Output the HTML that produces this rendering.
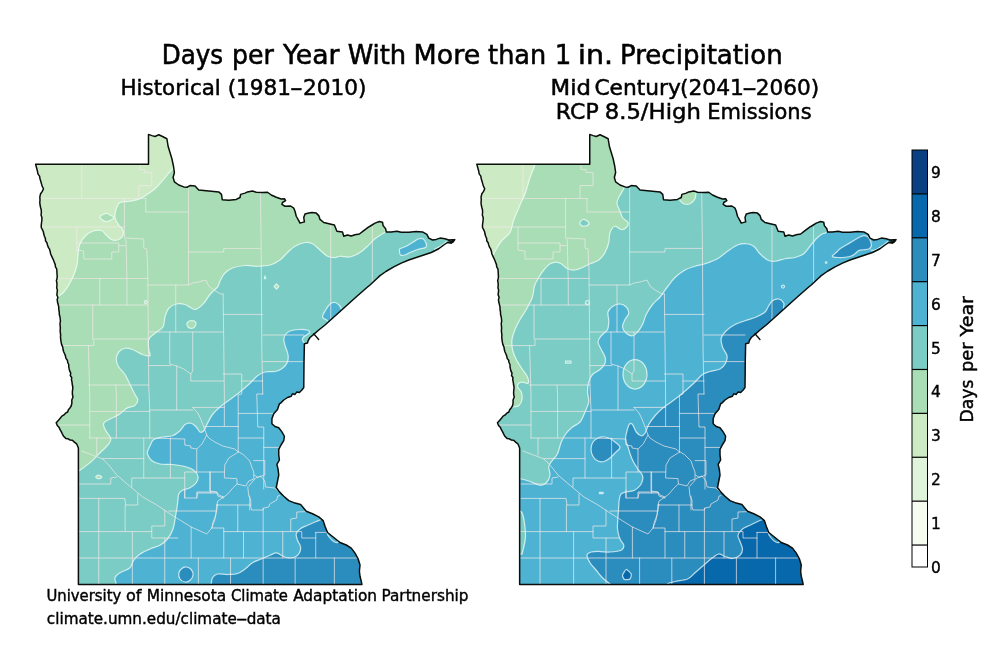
<!DOCTYPE html>
<html lang="en">
<head>
<meta charset="utf-8">
<title>Days per Year With More than 1 in. Precipitation</title>
<style>
html,body{margin:0;padding:0;background:#fff;}
body{width:1000px;height:667px;overflow:hidden;}
svg{display:block;}
text{font-family:"DejaVu Sans","Liberation Sans",sans-serif;fill:#000;}
.cn{stroke:#f4fffc;stroke-opacity:.72;stroke-width:1.25;stroke-linejoin:round;}
.co{fill:none;stroke:#f3eaea;stroke-opacity:.7;stroke-width:1;stroke-linejoin:round;stroke-linecap:round;}
.st{fill:none;stroke:#0a0f0a;stroke-width:1.5;stroke-linejoin:round;stroke-linecap:round;}
</style>
</head>
<body>
<svg width="1000" height="667" viewBox="0 0 1000 667">
<rect width="1000" height="667" fill="#fff"/>
<defs>
<path id="mn" d="M35.6 164.2 L148.5 164.2 L148.5 134.4 L151.9 135.6 L155 136.5 L158.75 134.75 L162.5 136.5 L166.9 138.75 L168.1 146.25 L170 152.5 L171.9 158.75 L173.5 166.25 L174.4 172.5 L173.1 177.5 L174.4 181.9 L178.75 185 L183.75 186.9 L186.9 187.25 L190 185.6 L195 186 L196.9 188.1 L198.75 190 L208.75 191 L218.75 191.9 L221.5 194.4 L222.25 199.75 L228.75 200.25 L236.25 199.4 L240 197.5 L240.6 194.4 L245 193.1 L247.5 191.9 L252.5 191 L256.25 192.25 L262.5 192.5 L267.5 192.25 L271.25 195 L276.25 197.25 L281.25 199 L284.4 198.75 L285.6 200.6 L282.5 202.5 L281.9 204.4 L285 206.25 L290.6 206 L293.75 208.1 L295 211.25 L296.25 216.25 L298.75 220.6 L300 223.1 L304.4 221.9 L303.75 217.5 L305 214 L308.75 213.1 L311.9 212.5 L316.25 213.1 L318.75 215.6 L320 219.4 L323.75 222.5 L330 224 L334.4 225 L335.6 228.1 L336.9 231.25 L342.5 231.9 L343.75 236.25 L347.5 235 L351.25 236 L355 234.75 L359.4 234 L363.75 230.6 L368.75 226.9 L370 226.25 L375 223.1 L379.4 221.5 L382.5 222.25 L383.1 225.6 L385.6 228.75 L386.25 231.9 L391.25 231.9 L396.9 231.25 L401.25 232.25 L408.75 232.25 L416.25 231.5 L422.5 231.9 L426.9 234.4 L428.75 238.1 L432.5 240 L436.25 239.4 L440 238.1 L445 238.75 L448.75 240 L452.5 239.75 L454.6 239.7 L451.25 243.1 L447.5 242.5 L443.75 245 L438.75 248.75 L431.25 252.5 L423.75 255 L416.25 257.5 L408.75 260 L401.25 263.1 L393.75 266.9 L386.25 271.25 L380 275.6 L377.5 278 L370 285 L367.5 287 L357.5 295.75 L345 307 L332.5 318.25 L325 325 L318.75 330 L313.75 334.4 L310 337.5 L308.1 340.6 L307.5 343.1 L304.4 343.75 L304 362.5 L303.75 387.5 L301.9 390 L299.4 392.5 L296.9 391.9 L295 394.4 L292.5 393.75 L291.25 396.25 L287.5 397.5 L283.75 400 L280.6 403.1 L279.4 403.75 L277.5 409.4 L273.75 413.75 L271.9 418.75 L271.9 423.75 L275 426.5 L278.75 427.75 L281.9 431.9 L284.4 436.25 L283.75 440.6 L281 445 L278.75 449.4 L278.75 455 L279.4 460 L276.9 464.4 L278.1 469.4 L278.75 475 L277.5 481.25 L276.25 487.5 L279.4 491.9 L283.75 496.25 L288.75 500.6 L295 503.1 L300.6 504.4 L303.1 507.5 L306.25 511.25 L312.5 513.75 L318.75 516.9 L323.1 520.6 L325 526.25 L327.5 532.5 L333.75 537.5 L340 542.5 L346.25 545 L351.25 548.1 L355 553.1 L358.1 558.75 L360 565 L359.4 571.25 L360 576.25 L361.25 581.25 L361.9 584.4 L78.4 584.4 L78.4 448 L76.6 443.8 L74.37 442.15 L72.4 440.2 L70.1 439.97 L68.04 438.84 L65.8 438.4 L63.62 436.28 L62.2 433.6 L61.24 431.58 L60.07 429.67 L59.2 427.6 L57.29 425.46 L56.2 422.8 L58.31 420.41 L60.4 418 L61.87 416.11 L63.95 414.94 L65.5 413.14 L67.6 412 L68.41 409.77 L69.93 407.96 L71.2 406 L71.86 403.04 L71.8 400 L73 397 L72.42 394.53 L72.36 392.02 L72.64 389.49 L72.82 386.97 L72.25 384.49 L72 382 L71.48 379.83 L71.7 377.53 L70.29 375.53 L70.76 373.18 L69.74 371.1 L69.18 368.95 L68.74 366.76 L68.75 364.5 L67.72 362.49 L67.41 360.2 L65.92 358.38 L65.5 356.13 L64.73 354.03 L63.75 352 L63.07 349.53 L62.72 346.99 L61.65 344.6 L61.11 342.1 L60.73 339.57 L60.5 337 L60.64 334.77 L60.31 332.56 L60.13 330.34 L60.37 328.11 L60.17 325.89 L59.95 323.67 L60.43 321.44 L60.27 319.22 L60 317 L59.31 314.55 L59.25 311.99 L58.78 309.5 L58.74 306.93 L58.17 304.46 L57.5 302 L57.19 299.63 L57.88 297.23 L56.86 294.89 L57.11 292.5 L57.41 290.12 L56.67 287.76 L56.96 285.38 L56.9 283 L56.39 280.65 L57.09 278.3 L57.19 275.95 L56.98 273.6 L56.9 271.25 L56.67 268.95 L55.45 266.93 L55.23 264.63 L54.4 262.5 L53.55 260.27 L52.58 258.09 L51.51 255.96 L50.6 253.75 L50.18 251.44 L49.51 249.21 L48.25 247.2 L47.5 245 L46.9 242.75 L45.49 240.79 L45.38 238.36 L44.4 236.25 L43.76 234.01 L43.34 231.69 L42.37 229.57 L41.25 227.5 L41.23 224.98 L41.56 222.49 L41.9 220 L41.92 217.49 L41.05 215.03 L41.37 212.5 L41.25 210 L40.6 207.5 L40.04 205.03 L39.78 202.53 L40 200 L39.82 196.83 L40.6 193.75 L42.31 191.4 L43.5 188.75 L42.24 186.38 L41.49 183.84 L40.76 181.29 L40 178.75 L39.55 176.12 L37.9 173.9 L37.5 171.25Z"/>
<clipPath id="clipL"><use href="#mn"/></clipPath>
<clipPath id="clipR"><use href="#mn" transform="translate(441.25 0)"/></clipPath>
<g id="counties" class="co">
<path d="M81.75 164.5 V198.4"/>
<path d="M41 198.4 H145.75"/>
<path d="M139.75 164.4 V169.6 H144.75 V172.4 H151.75 V185.6 H138.75 V198.4"/>
<path d="M145.75 198.4 V212 H188.4"/>
<path d="M188.4 186 V285"/>
<path d="M124.35 198.4 V238 L126 240 L127 283 V305"/>
<path d="M41.5 227 H124.35"/>
<path d="M76.75 227 V250 L83.75 251 V259 H111.75 V252 H118.75 V245.6"/>
<path d="M76.75 243 H118.75 V245.6 H125"/>
<path d="M125.75 238 L143.75 239 V248 L146.75 249 L147.75 270 L148.75 385 L149.75 411 V438"/>
<path d="M188.4 252 H223.75 V248.4 H260.35"/>
<path d="M260.5 193 L261.2 250 L261.8 350 L262.75 394"/>
<path d="M330.75 226 V321"/>
<path d="M372.35 227 V282"/>
<path d="M56.75 278.4 H147.75"/>
<path d="M99.75 278.4 V305"/>
<path d="M57.5 305 H147.75"/>
<path d="M92.75 305 V339"/>
<path d="M61.75 345.6 H93.75 V339 H148.75"/>
<path d="M88.35 345.6 L89.75 395 V438"/>
<path d="M88.35 385 H148.75"/>
<path d="M115.75 385 L116.35 395 V438"/>
<path d="M147.75 285 H188.75 L192.75 283 L198.75 282 L205.75 280 L208.75 286 L213.75 290 L220.75 294 L223.15 294"/>
<path d="M175.75 285 V332"/>
<path d="M148.75 332 H223.15"/>
<path d="M169.75 332 V364 L176.75 366 L183.75 369 L190.75 374"/>
<path d="M192.75 332 V371 L190.75 374 V381 H223.75"/>
<path d="M148.75 365.6 H170.75"/>
<path d="M176.75 366 V410"/>
<path d="M223.15 294 L224.35 395 V426"/>
<path d="M223.15 314.4 H262.75"/>
<path d="M262.75 335 H303.75"/>
<path d="M262.75 361.6 H303.5"/>
<path d="M223.15 374 H241.75 V394 L238.2 395 V452"/>
<path d="M241.75 381 H262.75"/>
<path d="M262.75 394 H256.75 L257.75 427 H263.75 V489"/>
<path d="M238.35 413.4 H273"/>
<path d="M204.75 426.5 H238.35"/>
<path d="M238.35 438 H263.75"/>
<path d="M263.75 447.4 H279"/>
<path d="M89.75 411.4 H149.75"/>
<path d="M58.75 425 H89.75"/>
<path d="M89.75 438 H149.75"/>
<path d="M96.75 438 V455"/>
<path d="M102.75 458.6 H143.75"/>
<path d="M143.75 438 V478"/>
<path d="M149.75 410 H192.75"/>
<path d="M192.75 407.4 H224.35"/>
<path d="M192.75 407.4 L197.75 413 L200.75 419 L203.75 427 L206.75 435 L208.75 438 L214.75 442 L222.75 446 L234.75 449 L238.35 452"/>
<path d="M149.75 438 L184.75 439 V445 L190.75 446 V448 L196.75 449 L202 444 L206.75 435"/>
<path d="M170.35 438 V478"/>
<path d="M131.75 487 V478 H184.75"/>
<path d="M196.75 449 V472 H184.75 V498 H196.75 L197.75 493 H216.75"/>
<path d="M196.75 472 H224.35"/>
<path d="M210.35 472 V493"/>
<path d="M81.75 451 L102.75 459 L108.75 465 L116.75 475 L130.75 487 L142.75 497 L156.75 505 L168.75 513 L176.75 518 L191.15 527 L206.75 534 L211.75 528 L214.75 520 L216.75 510 L217.75 504 L216.75 505"/>
<path d="M79.75 484 H110.75 V478 L116.75 477"/>
<path d="M79.75 498.4 H124.75 L125.75 505 H137.75 V494"/>
<path d="M238.35 452 L228.75 458 L224.75 465 L224.35 478 L236.75 478.6 L237.15 484 L245.75 486 L248.75 481 L253.75 479 L253.75 472 L251.75 467 L249.75 461 L243.75 455Z"/>
<path d="M253.75 460.6 H264.75 V475 L261.75 476 L257.75 477.4 L254.35 475"/>
<path d="M248.75 486 L255.75 478 L260.75 476 L264.75 481 L265.75 487 L274.75 488 L279.75 493"/>
<path d="M247.75 487 L248.75 496 L250.75 500 V507 L251.75 510 H263.15 L263.75 508 L268.75 507 L269.75 504 L276.75 500 L277.75 496 L279.75 495.6"/>
<path d="M237.15 484 L232.75 488 L227.75 494 L223.75 497 L217.75 501 L216.75 505 H250.75"/>
<path d="M209.75 472 V491 L216.75 492 L218.75 495 L223.75 497"/>
<path d="M216.75 505 L215.75 515 L212.75 523 L211.75 528"/>
<path d="M98.75 498.4 V584"/>
<path d="M125.15 505 V531.6"/>
<path d="M78.75 531.6 H151.75"/>
<path d="M132.35 531.6 V584"/>
<path d="M78.75 558 H358.75"/>
<path d="M164.75 510 V526 H151.75 V538 H177.75"/>
<path d="M164.75 538 V584"/>
<path d="M168.75 511 H216.75"/>
<path d="M191.15 527 V558"/>
<path d="M211.75 528 H223.75 V558"/>
<path d="M198.35 558 V584"/>
<path d="M230.55 558 V584"/>
<path d="M243.5 531.6 V558"/>
<path d="M223.75 531.6 H296.75"/>
<path d="M237.75 505 V531.6"/>
<path d="M249.75 496 V510"/>
<path d="M263.15 508 V584"/>
<path d="M184.75 490 V498"/>
<path d="M196.75 498 V492 H216.75 L217.75 496 L223.75 498"/>
<path d="M282.75 531.6 V558"/>
<path d="M295.15 558 V584"/>
<path d="M334.35 558 V584"/>
<path d="M315.75 532.4 V558"/>
<path d="M315.75 532.4 H329"/>
<path d="M296.75 531.6 H301.75 V538 H315.75"/>
<path d="M290.75 531.6 V519 L296.75 518 V512 L306.75 511.6"/>
</g>
</defs>

<g clip-path="url(#clipL)">
<rect x="20" y="120" width="460" height="480" fill="#a8ddb5"/>
<path class="cn" fill="#ccebc5" d="M171.25 170 C168.96 172.71 161.04 182.5 157.5 186.25 C153.96 190 152.92 190.42 150 192.5 C147.08 194.58 143.33 197.29 140 198.75 C136.67 200.21 133.33 200.62 130 201.25 C126.67 201.88 122.29 201.25 120 202.5 C117.71 203.75 117.08 206.25 116.25 208.75 C115.42 211.25 114.58 214.79 115 217.5 C115.42 220.21 117.42 222.92 118.75 225 C120.08 227.08 122.38 228.12 123 230 C123.62 231.88 123.42 234.58 122.5 236.25 C121.58 237.92 119.38 239.46 117.5 240 C115.62 240.54 113.12 240.33 111.25 239.5 C109.38 238.67 107.92 236.5 106.25 235 C104.58 233.5 103.54 231.12 101.25 230.5 C98.96 229.88 95.21 230.29 92.5 231.25 C89.79 232.21 87.17 233.96 85 236.25 C82.83 238.54 80.67 241.88 79.5 245 C78.33 248.12 78.42 251.67 78 255 C77.58 258.33 77.71 261.67 77 265 C76.29 268.33 75.12 271.67 73.75 275 C72.38 278.33 70.42 282.17 68.75 285 C67.08 287.83 65.54 290 63.75 292 C61.96 294 58.96 296.17 58 297 L40 300 L20 300 L20 120 L180 120 L180 165Z"/>
<path class="cn" fill="#a8ddb5" d="M100 217 C100.08 216.08 101.92 215.08 103 214.5 C104.08 213.92 105.33 213.42 106.5 213.5 C107.67 213.58 108.79 214.33 110 215 C111.21 215.67 113.75 216.58 113.75 217.5 C113.75 218.42 111.29 219.83 110 220.5 C108.71 221.17 107.25 221.58 106 221.5 C104.75 221.42 103.5 220.75 102.5 220 C101.5 219.25 99.92 217.92 100 217Z"/>
<path class="cn" fill="#7bccc4" d="M385 232.5 C384.58 232.71 384.17 232.71 382.5 233.75 C380.83 234.79 377.5 236.67 375 238.75 C372.5 240.83 370 243.96 367.5 246.25 C365 248.54 362.92 250.71 360 252.5 C357.08 254.29 353.33 256.38 350 257 C346.67 257.62 342.5 256.17 340 256.25 C337.5 256.33 337.08 257.5 335 257.5 C332.92 257.5 330 257.5 327.5 256.25 C325 255 322.5 252.08 320 250 C317.5 247.92 315 245 312.5 243.75 C310 242.5 307.92 242.08 305 242.5 C302.08 242.92 297.92 244.58 295 246.25 C292.08 247.92 290 250.21 287.5 252.5 C285 254.79 282.92 257.92 280 260 C277.08 262.08 273.75 263.96 270 265 C266.25 266.04 261.67 266.17 257.5 266.25 C253.33 266.33 249.17 265.21 245 265.5 C240.83 265.79 235.83 266.75 232.5 268 C229.17 269.25 226.92 271.17 225 273 C223.08 274.83 222.08 277 221 279 C219.92 281 219.08 283.67 218.5 285 C217.92 286.33 218.92 285.42 217.5 287 C216.08 288.58 212.29 291.79 210 294.5 C207.71 297.21 206.25 300.75 203.75 303.25 C201.25 305.75 198.12 309.29 195 309.5 C191.88 309.71 188.12 305.42 185 304.5 C181.88 303.58 178.96 303.38 176.25 304 C173.54 304.62 170.62 306.08 168.75 308.25 C166.88 310.42 165.96 313.88 165 317 C164.04 320.12 164.67 324.29 163 327 C161.33 329.71 157.38 331.17 155 333.25 C152.62 335.33 149.79 336.79 148.75 339.5 C147.71 342.21 148.54 346.79 148.75 349.5 C148.96 352.21 151.04 354.92 150 355.75 C148.96 356.58 145.42 355.54 142.5 354.5 C139.58 353.46 135.42 350.54 132.5 349.5 C129.58 348.46 127.29 347.83 125 348.25 C122.71 348.67 120.21 350.12 118.75 352 C117.29 353.88 116.25 357 116.25 359.5 C116.25 362 117.29 364.5 118.75 367 C120.21 369.5 123.12 371.58 125 374.5 C126.88 377.42 128.33 381.17 130 384.5 C131.67 387.83 133.7 391.92 135 394.5 C136.3 397.08 137.83 398.18 137.8 400 C137.77 401.82 136.7 404 134.8 405.4 C132.9 406.8 129 406.9 126.4 408.4 C123.8 409.9 122 412.6 119.2 414.4 C116.4 416.2 112.2 417.7 109.6 419.2 C107 420.7 104.3 421.6 103.6 423.4 C102.9 425.2 104.2 427.5 105.4 430 C106.6 432.5 110.3 436 110.8 438.4 C111.3 440.8 110.2 442 108.4 444.4 C106.6 446.8 103 449.8 100 452.8 C97 455.8 93.9 459.4 90.4 462.4 C86.9 465.4 80.9 469.4 79 470.8 L60 475 L60 600 L480 600 L480 200 L390 200Z"/>
<path class="cn" fill="#a8ddb5" d="M187 323.25 C187.33 322.21 188.67 321.04 190 320.75 C191.33 320.46 194.04 320.79 195 321.5 C195.96 322.21 196.17 323.88 195.75 325 C195.33 326.12 193.79 327.92 192.5 328.25 C191.21 328.58 188.92 327.83 188 327 C187.08 326.17 186.67 324.29 187 323.25Z"/>
<path class="cn" fill="#a8ddb5" d="M95.8 476.8 C95.85 476.3 96.8 475.5 97.5 475.3 C98.2 475.1 99.28 475.28 100 475.6 C100.72 475.92 101.8 476.73 101.8 477.2 C101.8 477.67 100.77 478.22 100 478.4 C99.23 478.58 97.9 478.57 97.2 478.3 C96.5 478.03 95.75 477.3 95.8 476.8Z"/>
<path class="cn" fill="#a8ddb5" d="M276.5 283.8 L278.8 286.5 L276.5 289.2 L274.2 286.5Z"/>
<path class="cn" fill="#4eb3d3" d="M304.6 343.6 C304.25 343 302.68 341.1 302.5 340 C302.32 338.9 302.75 337.87 303.5 337 C304.25 336.13 306 335.55 307 334.8 C308 334.05 309.33 333.26 309.5 332.5 C309.67 331.74 309.75 330.75 308 330.25 C306.25 329.75 302 329.38 299 329.5 C296 329.62 292.25 330.17 290 331 C287.75 331.83 286.54 333.08 285.5 334.5 C284.46 335.92 283.75 337.42 283.75 339.5 C283.75 341.58 284.79 344.5 285.5 347 C286.21 349.5 287.67 352 288 354.5 C288.33 357 288.42 359.71 287.5 362 C286.58 364.29 284.58 366.67 282.5 368.25 C280.42 369.83 277.92 370.88 275 371.5 C272.08 372.12 267.92 371.29 265 372 C262.08 372.71 260 373.88 257.5 375.75 C255 377.62 252.92 380.54 250 383.25 C247.08 385.96 243.33 389.29 240 392 C236.67 394.71 233.33 397 230 399.5 C226.67 402 222.92 404.5 220 407 C217.08 409.5 214.58 411.79 212.5 414.5 C210.42 417.21 208.96 420.54 207.5 423.25 C206.04 425.96 205 429.29 203.75 430.75 C202.5 432.21 201.25 432.62 200 432 C198.75 431.38 197.71 428.46 196.25 427 C194.79 425.54 193.12 423.67 191.25 423.25 C189.38 422.83 186.88 423.25 185 424.5 C183.12 425.75 182.08 428.88 180 430.75 C177.92 432.62 175.42 434.71 172.5 435.75 C169.58 436.79 165.62 436.38 162.5 437 C159.38 437.62 155.83 438.04 153.75 439.5 C151.67 440.96 150.96 443.93 150 445.75 C149.04 447.57 148.42 449.02 148 450.4 C147.58 451.77 146.96 452.36 147.5 454 C148.04 455.64 149.17 458.58 151.25 460.25 C153.33 461.92 156.46 463.29 160 464 C163.54 464.71 168.33 464.08 172.5 464.5 C176.67 464.92 181.46 465.54 185 466.5 C188.54 467.46 191.58 468.58 193.75 470.25 C195.92 471.92 197.58 474.42 198 476.5 C198.42 478.58 197.58 480.88 196.25 482.75 C194.92 484.62 192.29 486.5 190 487.75 C187.71 489 184.38 489.21 182.5 490.25 C180.62 491.29 179.58 491.71 178.75 494 C177.92 496.29 178.04 500.25 177.5 504 C176.96 507.75 176.25 512.33 175.5 516.5 C174.75 520.67 174.33 525.25 173 529 C171.67 532.75 169.67 536.29 167.5 539 C165.33 541.71 162.92 543.58 160 545.25 C157.08 546.92 153.33 547.54 150 549 C146.67 550.46 142.71 552.12 140 554 C137.29 555.88 135.42 557.96 133.75 560.25 C132.08 562.54 132.29 565.67 130 567.75 C127.71 569.83 122.5 571.08 120 572.75 C117.5 574.42 115.62 575.88 115 577.75 C114.38 579.62 116.04 582.96 116.25 584 L116.5 600 L480 600 L480 344 L306 344Z"/>
<path class="cn" fill="#4eb3d3" d="M400 248.75 C401.12 247.92 404.17 247.29 406.25 246.25 C408.33 245.21 410.42 243.75 412.5 242.5 C414.58 241.25 417 239.38 418.75 238.75 C420.5 238.12 421.75 237.92 423 238.75 C424.25 239.58 425.83 242.29 426.25 243.75 C426.67 245.21 426.96 246.54 425.5 247.5 C424.04 248.46 420.08 248.67 417.5 249.5 C414.92 250.33 412.08 251.58 410 252.5 C407.92 253.42 406.58 254.58 405 255 C403.42 255.42 401.42 255.62 400.5 255 C399.58 254.38 399.58 252.29 399.5 251.25 C399.42 250.21 398.88 249.58 400 248.75Z"/>
<path class="cn" fill="#4eb3d3" d="M327.5 320.5 C326.67 319.92 322.75 318.83 322.5 317 C322.25 315.17 324.75 311.67 326 309.5 C327.25 307.33 328.5 305.17 330 304 C331.5 302.83 333.42 302.25 335 302.5 C336.58 302.75 338.42 304.33 339.5 305.5 C340.58 306.67 341.17 308.83 341.5 309.5 L345 312 L330 325Z"/>
<path class="cn" fill="#2b8cbe" d="M211.25 590 C211.25 589 211.04 586.04 211.25 584 C211.46 581.96 211.46 579.42 212.5 577.75 C213.54 576.08 215 574.54 217.5 574 C220 573.46 224.17 574.58 227.5 574.5 C230.83 574.42 234.58 574.42 237.5 573.5 C240.42 572.58 242.5 570.79 245 569 C247.5 567.21 249.79 564.42 252.5 562.75 C255.21 561.08 258.33 560.25 261.25 559 C264.17 557.75 267.5 556.29 270 555.25 C272.5 554.21 274.38 552.75 276.25 552.75 C278.12 552.75 279.38 554.42 281.25 555.25 C283.12 556.08 285.21 557.46 287.5 557.75 C289.79 558.04 293 557.83 295 557 C297 556.17 298.58 554.5 299.5 552.75 C300.42 551 300.83 548.58 300.5 546.5 C300.17 544.42 298.21 542.33 297.5 540.25 C296.79 538.17 295.83 535.88 296.25 534 C296.67 532.12 298.12 530.46 300 529 C301.88 527.54 304.79 526.5 307.5 525.25 C310.21 524 313.96 522.46 316.25 521.5 C318.54 520.54 318.96 520.58 321.25 519.5 C323.54 518.42 328.54 515.75 330 515 L480 515 L480 600 L211.25 600Z"/>
<path class="cn" fill="#2b8cbe" d="M181.25 569 C182.5 567.92 184.58 566.92 186.25 567 C187.92 567.08 190.12 568.12 191.25 569.5 C192.38 570.88 193.21 573.46 193 575.25 C192.79 577.04 191.33 579.12 190 580.25 C188.67 581.38 186.67 582.21 185 582 C183.33 581.79 181.04 580.42 180 579 C178.96 577.58 178.54 575.17 178.75 573.5 C178.96 571.83 180 570.08 181.25 569Z"/>
<path class="cn" fill="#4eb3d3" d="M327 532 C326.92 533.25 328.25 535.83 329.5 537.5 C330.75 539.17 333.08 541.25 334.5 542 C335.92 542.75 338.08 543 338 542 C337.92 541 335.33 538 334 536 C332.67 534 331.17 530.67 330 530 C328.83 529.33 327.08 530.75 327 532Z"/>
<path class="cn" fill="none" d="M144.3 302 a1.5 1.5 0 1 0 3 0 a1.5 1.5 0 1 0 -3 0"/>
<path class="cn" fill="none" d="M264.3 278.5 L265 276 L265.8 278.5Z"/>
<path class="cn" fill="none" d="M446.5 241.3 L444 243.7 L439.8 246.5 L434 249.5"/>
<use href="#counties"/>
</g>
<use href="#mn" class="st"/>
<path class="st" style="stroke-width:1.3" d="M313.7 333.8 L318.7 339.5"/>
<path class="st" d="M449 240.3 L451.5 241.6 L453 240.2 L454.6 239.6 L453.2 241.8 L451 242.9 L448.6 242.2"/>
<g clip-path="url(#clipR)">
<rect x="460" y="120" width="460" height="480" fill="#a8ddb5"/>
<path class="cn" fill="#ccebc5" d="M535 160 C535 160.75 535.83 161.58 535 164.5 C534.17 167.42 531.58 172.83 530 177.5 C528.42 182.17 527.17 187.92 525.5 192.5 C523.83 197.08 521.96 200.42 520 205 C518.04 209.58 515.42 215.42 513.75 220 C512.08 224.58 512.08 228.96 510 232.5 C507.92 236.04 503.75 238.12 501.25 241.25 C498.75 244.38 496.54 248.75 495 251.25 C493.46 253.75 493.67 254.46 492 256.25 C490.33 258.04 486.17 261.04 485 262 L460 262 L460 150 L535 150Z"/>
<path class="cn" fill="#7bccc4" d="M627 178 C626.58 179.33 625.04 184.21 624.5 186 C623.96 187.79 624.71 186.83 623.75 188.75 C622.79 190.67 619.88 195 618.75 197.5 C617.62 200 616.79 201.46 617 203.75 C617.21 206.04 619.08 208.96 620 211.25 C620.92 213.54 621.17 215.62 622.5 217.5 C623.83 219.38 627.38 220.83 628 222.5 C628.62 224.17 627.38 226.33 626.25 227.5 C625.12 228.67 623.12 229.71 621.25 229.5 C619.38 229.29 616.88 225.75 615 226.25 C613.12 226.75 611.04 229.79 610 232.5 C608.96 235.21 609.58 239.17 608.75 242.5 C607.92 245.83 606.67 249.58 605 252.5 C603.33 255.42 601.25 258.12 598.75 260 C596.25 261.88 592.71 262.5 590 263.75 C587.29 265 585 266.46 582.5 267.5 C580 268.54 577.5 269.79 575 270 C572.5 270.21 569.79 269.79 567.5 268.75 C565.21 267.71 563.12 264.88 561.25 263.75 C559.38 262.62 558.12 262 556.25 262 C554.38 262 552.08 262.42 550 263.75 C547.92 265.08 545.62 267.71 543.75 270 C541.88 272.29 540.29 274.83 538.75 277.5 C537.21 280.17 535.54 282.75 534.5 286 C533.46 289.25 533.88 293.08 532.5 297 C531.12 300.92 528.33 305.75 526.25 309.5 C524.17 313.25 521.88 316.17 520 319.5 C518.12 322.83 516.33 326.17 515 329.5 C513.67 332.83 512.42 336.17 512 339.5 C511.58 342.83 511.79 346.17 512.5 349.5 C513.21 352.83 514.58 356.17 516.25 359.5 C517.92 362.83 520.62 366.58 522.5 369.5 C524.38 372.42 526.58 374.71 527.5 377 C528.42 379.29 528.83 382.42 528 383.25 C527.17 384.08 524.04 382 522.5 382 C520.96 382 519.58 382.42 518.75 383.25 C517.92 384.08 517.08 385.54 517.5 387 C517.92 388.46 520.5 389.92 521.25 392 C522 394.08 522.42 397.21 522 399.5 C521.58 401.79 520.33 404.5 518.75 405.75 C517.17 407 514.79 406.12 512.5 407 C510.21 407.88 506.25 410.33 505 411 L470 411 L470 620 L920 620 L920 178Z"/>
<path class="cn" fill="#a8ddb5" d="M677 199 C677.42 199.17 678.38 199.21 679.5 200 C680.62 200.79 682 203.12 683.75 203.75 C685.5 204.38 688.12 204.58 690 203.75 C691.88 202.92 694 200.71 695 198.75 C696 196.79 695.83 193.12 696 192 L696 186 L677 186Z"/>
<path class="cn" fill="#7bccc4" d="M580 222.5 C580.38 221.58 581.75 219.71 583 219.5 C584.25 219.29 586.54 220.42 587.5 221.25 C588.46 222.08 589.38 223.67 588.75 224.5 C588.12 225.33 585.08 226.17 583.75 226.25 C582.42 226.33 581.38 225.62 580.75 225 C580.12 224.38 579.62 223.42 580 222.5Z"/>
<path class="cn" fill="#4eb3d3" d="M828 225 C827.71 226.25 827.17 231.04 826.25 232.5 C825.33 233.96 824.17 232.71 822.5 233.75 C820.83 234.79 818.33 236.67 816.25 238.75 C814.17 240.83 812.08 243.75 810 246.25 C807.92 248.75 806.25 251.88 803.75 253.75 C801.25 255.62 798.12 256.67 795 257.5 C791.88 258.33 788.33 258.12 785 258.75 C781.67 259.38 777.92 261.04 775 261.25 C772.08 261.46 770 261.25 767.5 260 C765 258.75 762.29 256.04 760 253.75 C757.71 251.46 756.04 247.92 753.75 246.25 C751.46 244.58 748.96 243.96 746.25 243.75 C743.54 243.54 740.62 243.75 737.5 245 C734.38 246.25 730.83 248.96 727.5 251.25 C724.17 253.54 721.25 256.67 717.5 258.75 C713.75 260.83 708.75 262.5 705 263.75 C701.25 265 698.33 265.21 695 266.25 C691.67 267.29 688.33 268.12 685 270 C681.67 271.88 677.92 274.71 675 277.5 C672.08 280.29 670 283.5 667.5 286.75 C665 290 662.5 294.04 660 297 C657.5 299.96 654.79 301.58 652.5 304.5 C650.21 307.42 647.92 311.17 646.25 314.5 C644.58 317.83 643.96 321.58 642.5 324.5 C641.04 327.42 639.17 330.12 637.5 332 C635.83 333.88 634.38 335.54 632.5 335.75 C630.62 335.96 627.92 334.71 626.25 333.25 C624.58 331.79 622.71 329.29 622.5 327 C622.29 324.71 623.96 321.79 625 319.5 C626.04 317.21 628.54 315.33 628.75 313.25 C628.96 311.17 627.71 308.54 626.25 307 C624.79 305.46 622.29 304.08 620 304 C617.71 303.92 614.5 305.17 612.5 306.5 C610.5 307.83 608.62 309.62 608 312 C607.38 314.38 608.83 317.83 608.75 320.75 C608.67 323.67 608.75 327 607.5 329.5 C606.25 332 602.83 333.67 601.25 335.75 C599.67 337.83 598 339.71 598 342 C598 344.29 600.08 347 601.25 349.5 C602.42 352 604.38 354.71 605 357 C605.62 359.29 605.83 361.17 605 363.25 C604.17 365.33 602.08 367.62 600 369.5 C597.92 371.38 594.38 372.42 592.5 374.5 C590.62 376.58 589.58 379.08 588.75 382 C587.92 384.92 587.5 388.67 587.5 392 C587.5 395.33 589.17 398.67 588.75 402 C588.33 405.33 586.46 408.67 585 412 C583.54 415.33 582.08 419.5 580 422 C577.92 424.5 574.79 425.12 572.5 427 C570.21 428.88 568.12 430.75 566.25 433.25 C564.38 435.75 562.71 438.58 561.25 442 C559.79 445.42 558.96 450.71 557.5 453.75 C556.04 456.79 553.96 458.12 552.5 460.25 C551.04 462.38 549.17 464 548.75 466.5 C548.33 469 550.42 472.54 550 475.25 C549.58 477.96 547.92 481.08 546.25 482.75 C544.58 484.42 542.71 485.46 540 485.25 C537.29 485.04 533.12 482.54 530 481.5 C526.88 480.46 524.58 479.58 521.25 479 C517.92 478.42 511.88 478.17 510 478 L470 478 L470 620 L920 620 L920 225Z"/>
<path class="cn" fill="#7bccc4" d="M515 511 C516 511.08 519.5 510 521 511.5 C522.5 513 523.25 515.83 524 520 C524.75 524.17 525.58 531.83 525.5 536.5 C525.42 541.17 524.08 545.08 523.5 548 C522.92 550.92 522.25 553 522 554 L515 554Z"/>
<path class="cn" fill="#7bccc4" d="M623 374.25 a12 14.75 0 1 0 24 0 a12 14.75 0 1 0 -24 0Z"/>
<path class="cn" fill="#2b8cbe" d="M790 312 C788.96 311.58 784.79 310.96 783.75 309.5 C782.71 308.04 784.58 305 783.75 303.25 C782.92 301.5 780.62 299.42 778.75 299 C776.88 298.58 774.17 299.62 772.5 300.75 C770.83 301.88 770 303.88 768.75 305.75 C767.5 307.62 767.08 310.12 765 312 C762.92 313.88 759.58 315.54 756.25 317 C752.92 318.46 748.54 319.5 745 320.75 C741.46 322 738.12 322.83 735 324.5 C731.88 326.17 728.54 328.46 726.25 330.75 C723.96 333.04 721.88 335.54 721.25 338.25 C720.62 340.96 721.54 344.08 722.5 347 C723.46 349.92 726.5 353.04 727 355.75 C727.5 358.46 726.67 361.04 725.5 363.25 C724.33 365.46 722.58 367.62 720 369 C717.42 370.38 712.92 370.58 710 371.5 C707.08 372.42 705.21 372.54 702.5 374.5 C699.79 376.46 697.08 380.12 693.75 383.25 C690.42 386.38 686.25 390.12 682.5 393.25 C678.75 396.38 674.58 399.5 671.25 402 C667.92 404.5 665.21 405.96 662.5 408.25 C659.79 410.54 657.29 413.04 655 415.75 C652.71 418.46 650.42 421.58 648.75 424.5 C647.08 427.42 646.25 431.38 645 433.25 C643.75 435.12 642.71 435.96 641.25 435.75 C639.79 435.54 637.71 433.88 636.25 432 C634.79 430.12 633.62 425.83 632.5 424.5 C631.38 423.17 630.42 422.96 629.5 424 C628.58 425.04 627.67 428.17 627 430.75 C626.33 433.33 625.38 436.96 625.5 439.5 C625.62 442.04 627 443.67 627.75 446 C628.5 448.33 629.12 451 630 453.5 C630.88 456 631.75 458.5 633 461 C634.25 463.5 636 466.25 637.5 468.5 C639 470.75 641.12 472.75 642 474.5 C642.88 476.25 643 477.25 642.75 479 C642.5 480.75 641.88 483.12 640.5 485 C639.12 486.88 636.75 489.12 634.5 490.25 C632.25 491.38 629.25 491.12 627 491.75 C624.75 492.38 622.3 492.62 621 494 C619.7 495.38 619.58 498 619.2 500 C618.83 502 618.95 503.25 618.75 506 C618.55 508.75 618.21 512.67 618 516.5 C617.79 520.33 617.17 525.25 617.5 529 C617.83 532.75 618.96 536.29 620 539 C621.04 541.71 623.54 543.38 623.75 545.25 C623.96 547.12 623.54 549.12 621.25 550.25 C618.96 551.38 613.54 551.79 610 552 C606.46 552.21 603.12 551.5 600 551.5 C596.88 551.5 593.42 551.38 591.25 552 C589.08 552.62 587.21 553.46 587 555.25 C586.79 557.04 588.46 560.25 590 562.75 C591.54 565.25 594.17 567.75 596.25 570.25 C598.33 572.75 600.21 575.46 602.5 577.75 C604.79 580.04 608.75 582.96 610 584 L610 600 L920 600 L920 312Z"/>
<path class="cn" fill="#2b8cbe" d="M591 449 C591 446.58 591.83 443.83 593 442 C594.17 440.17 596.17 438.83 598 438 C599.83 437.17 602 436.92 604 437 C606 437.08 608.17 437.67 610 438.5 C611.83 439.33 613.33 440.52 615 442 C616.67 443.48 620 445.57 620 447.4 C620 449.23 616.67 451.23 615 453 C613.33 454.77 611.83 456.58 610 458 C608.17 459.42 606 461 604 461.5 C602 462 599.83 461.83 598 461 C596.17 460.17 594.17 458.5 593 456.5 C591.83 454.5 591 451.42 591 449Z"/>
<path class="cn" fill="#2b8cbe" d="M832.5 255.6 C832.92 254.83 835 253.64 836.25 252.5 C837.5 251.36 838.33 250 840 248.75 C841.67 247.5 844.17 246.25 846.25 245 C848.33 243.75 850.42 242.5 852.5 241.25 C854.58 240 856.88 238.44 858.75 237.5 C860.62 236.56 862.19 235.7 863.75 235.6 C865.31 235.5 866.96 235.96 868.1 236.9 C869.24 237.84 870.08 239.69 870.6 241.25 C871.12 242.81 871.56 244.96 871.25 246.25 C870.94 247.54 870 248.42 868.75 249 C867.5 249.58 865.42 249.48 863.75 249.75 C862.08 250.02 860.21 249.93 858.75 250.6 C857.29 251.27 856.25 252.85 855 253.75 C853.75 254.65 852.92 255.42 851.25 256 C849.58 256.58 847.08 257 845 257.25 C842.92 257.5 840.62 257.52 838.75 257.5 C836.88 257.48 834.79 257.42 833.75 257.1 C832.71 256.78 832.08 256.37 832.5 255.6Z"/>
<path class="cn" fill="#0868ac" d="M667.5 590 C667.5 589 666.25 585.42 667.5 584 C668.75 582.58 671.67 582.33 675 581.5 C678.33 580.67 684.17 580.46 687.5 579 C690.83 577.54 692.29 575.04 695 572.75 C697.71 570.46 700.83 567.75 703.75 565.25 C706.67 562.75 710 559.62 712.5 557.75 C715 555.88 716.67 554.21 718.75 554 C720.83 553.79 722.71 555.75 725 556.5 C727.29 557.25 730 558.71 732.5 558.5 C735 558.29 738.33 556.83 740 555.25 C741.67 553.67 742.5 551.29 742.5 549 C742.5 546.71 740.75 543.79 740 541.5 C739.25 539.21 737.58 537.33 738 535.25 C738.42 533.17 740.5 530.67 742.5 529 C744.5 527.33 747.29 526.58 750 525.25 C752.71 523.92 756.67 521.96 758.75 521 C760.83 520.04 760.29 520.5 762.5 519.5 C764.71 518.5 770.42 515.75 772 515 L920 515 L920 600 L667.5 600Z"/>
<path class="cn" fill="#0868ac" d="M626.25 569.5 C627.12 569.38 630.88 573.05 631.25 574 C631.62 574.95 630.67 578.45 630 579 C629.33 579.55 625.25 579.88 624.5 579.5 C623.75 579.12 622.33 576.25 622.5 575.25 C622.67 574.25 625.38 569.62 626.25 569.5Z"/>
<path class="cn" fill="#2b8cbe" d="M768.25 532 C768.17 533.25 769.5 535.83 770.75 537.5 C772 539.17 774.33 541.25 775.75 542 C777.17 542.75 779.33 543 779.25 542 C779.17 541 776.58 538 775.25 536 C773.92 534 772.42 530.67 771.25 530 C770.08 529.33 768.33 530.75 768.25 532Z"/>
<path class="cn" fill="none" d="M585.5 302.5 a2 2 0 1 0 4 0 a2 2 0 1 0 -4 0"/>
<path class="cn" fill="none" d="M565.5 361 h5.5 v2 h-5.5Z"/>
<path class="cn" fill="none" d="M599.5 492.3 h3.5 v1.2 h-3.5Z"/>
<path class="cn" fill="none" d="M781.5 286.6 a1.5 1.5 0 1 0 3 0 a1.5 1.5 0 1 0 -3 0"/>
<path class="cn" fill="none" d="M825.3 262.6 a0.8 0.8 0 1 0 1.6 0 a0.8 0.8 0 1 0 -1.6 0"/>
<path class="cn" fill="none" d="M888 241.2 L884.4 244.2 L882 246 L877.2 249 L873.6 250.3 L870.5 250"/>
<use href="#counties" transform="translate(441.25 0)"/>
</g>
<use href="#mn" class="st" transform="translate(441.25 0)"/>
<path class="st" style="stroke-width:1.3" d="M754.95 333.8 L759.95 339.5"/>
<path class="st" transform="translate(441.25 0)" d="M449 240.3 L451.5 241.6 L453 240.2 L454.6 239.6 L453.2 241.8 L451 242.9 L448.6 242.2"/>
<g>
<rect x="912" y="545.05" width="15.5" height="21.95" fill="#ffffff"/>
<rect x="912" y="501.16" width="15.5" height="43.89" fill="#f7fcf0"/>
<rect x="912" y="457.26" width="15.5" height="43.89" fill="#e0f3db"/>
<rect x="912" y="413.37" width="15.5" height="43.89" fill="#ccebc5"/>
<rect x="912" y="369.47" width="15.5" height="43.89" fill="#a8ddb5"/>
<rect x="912" y="325.58" width="15.5" height="43.89" fill="#7bccc4"/>
<rect x="912" y="281.68" width="15.5" height="43.89" fill="#4eb3d3"/>
<rect x="912" y="237.79" width="15.5" height="43.89" fill="#2b8cbe"/>
<rect x="912" y="193.89" width="15.5" height="43.89" fill="#0868ac"/>
<rect x="912" y="150" width="15.5" height="43.89" fill="#084081"/>
<path d="M912 545.05 H927.5" stroke="#000" stroke-width="1.2" fill="none"/>
<path d="M912 501.16 H927.5" stroke="#000" stroke-width="1.2" fill="none"/>
<path d="M912 457.26 H927.5" stroke="#000" stroke-width="1.2" fill="none"/>
<path d="M912 413.37 H927.5" stroke="#000" stroke-width="1.2" fill="none"/>
<path d="M912 369.47 H927.5" stroke="#000" stroke-width="1.2" fill="none"/>
<path d="M912 325.58 H927.5" stroke="#000" stroke-width="1.2" fill="none"/>
<path d="M912 281.68 H927.5" stroke="#000" stroke-width="1.2" fill="none"/>
<path d="M912 237.79 H927.5" stroke="#000" stroke-width="1.2" fill="none"/>
<path d="M912 193.89 H927.5" stroke="#000" stroke-width="1.2" fill="none"/>
<rect x="912" y="150" width="15.5" height="417" fill="none" stroke="#000" stroke-width="1"/>
<text x="931.1" y="573" font-size="16.5" stroke="#000" stroke-width="0.4" textLength="9.8" lengthAdjust="spacingAndGlyphs">0</text>
<text x="931.1" y="529.11" font-size="16.5" stroke="#000" stroke-width="0.4" textLength="9.8" lengthAdjust="spacingAndGlyphs">1</text>
<text x="931.1" y="485.21" font-size="16.5" stroke="#000" stroke-width="0.4" textLength="9.8" lengthAdjust="spacingAndGlyphs">2</text>
<text x="931.1" y="441.32" font-size="16.5" stroke="#000" stroke-width="0.4" textLength="9.8" lengthAdjust="spacingAndGlyphs">3</text>
<text x="931.1" y="397.42" font-size="16.5" stroke="#000" stroke-width="0.4" textLength="9.8" lengthAdjust="spacingAndGlyphs">4</text>
<text x="931.1" y="353.53" font-size="16.5" stroke="#000" stroke-width="0.4" textLength="9.8" lengthAdjust="spacingAndGlyphs">5</text>
<text x="931.1" y="309.63" font-size="16.5" stroke="#000" stroke-width="0.4" textLength="9.8" lengthAdjust="spacingAndGlyphs">6</text>
<text x="931.1" y="265.74" font-size="16.5" stroke="#000" stroke-width="0.4" textLength="9.8" lengthAdjust="spacingAndGlyphs">7</text>
<text x="931.1" y="221.84" font-size="16.5" stroke="#000" stroke-width="0.4" textLength="9.8" lengthAdjust="spacingAndGlyphs">8</text>
<text x="931.1" y="177.95" font-size="16.5" stroke="#000" stroke-width="0.4" textLength="9.8" lengthAdjust="spacingAndGlyphs">9</text>
<text transform="rotate(-90)" y="973.3" font-size="18.3" stroke="#000" stroke-width="0.45"><tspan x="-422.59" textLength="42.93" lengthAdjust="spacingAndGlyphs">Days</tspan> <tspan x="-372.12" textLength="29.62" lengthAdjust="spacingAndGlyphs">per</tspan> <tspan x="-336.46" textLength="40.36" lengthAdjust="spacingAndGlyphs">Year</tspan></text>
</g>
<text y="63.9" font-size="26.2" stroke="#000" stroke-width="0.55"><tspan x="161.78" textLength="61.42" lengthAdjust="spacingAndGlyphs">Days</tspan> <tspan x="231.91" textLength="41.89" lengthAdjust="spacingAndGlyphs">per</tspan> <tspan x="283.05" textLength="56.45" lengthAdjust="spacingAndGlyphs">Year</tspan> <tspan x="347.65" textLength="58.52" lengthAdjust="spacingAndGlyphs">With</tspan> <tspan x="413.59" textLength="66.63" lengthAdjust="spacingAndGlyphs">More</tspan> <tspan x="488.11" textLength="58.06" lengthAdjust="spacingAndGlyphs">than</tspan> <tspan x="554.64" textLength="16.56" lengthAdjust="spacingAndGlyphs">1</tspan> <tspan x="578.12" textLength="34.95" lengthAdjust="spacingAndGlyphs">in.</tspan> <tspan x="619.96" textLength="162.74" lengthAdjust="spacingAndGlyphs">Precipitation</tspan></text>
<text y="94.8" font-size="21.8" stroke="#000" stroke-width="0.5"><tspan x="120.5" textLength="100.31" lengthAdjust="spacingAndGlyphs">Historical</tspan> <tspan x="227.65" textLength="63.35" lengthAdjust="spacingAndGlyphs">(1981</tspan><tspan x="290.06" textLength="12.89" lengthAdjust="spacingAndGlyphs">-</tspan><tspan x="302.92" textLength="63.44" lengthAdjust="spacingAndGlyphs">2010)</tspan></text>
<text y="94.8" font-size="21.8" stroke="#000" stroke-width="0.5"><tspan x="550.57" textLength="40.4" lengthAdjust="spacingAndGlyphs">Mid</tspan> <tspan x="594.38" textLength="86.47" lengthAdjust="spacingAndGlyphs">Century</tspan><tspan x="679.92" textLength="64.09" lengthAdjust="spacingAndGlyphs">(2041</tspan><tspan x="741.96" textLength="15.08" lengthAdjust="spacingAndGlyphs">-</tspan><tspan x="755.82" textLength="63.44" lengthAdjust="spacingAndGlyphs">2060)</tspan></text>
<text y="118.7" font-size="21.8" stroke="#000" stroke-width="0.5"><tspan x="555.89" textLength="42.84" lengthAdjust="spacingAndGlyphs">RCP</tspan> <tspan x="604.65" textLength="96.28" lengthAdjust="spacingAndGlyphs">8.5/High</tspan> <tspan x="707.34" textLength="104.28" lengthAdjust="spacingAndGlyphs">Emissions</tspan></text>
<text y="601" font-size="15.4" stroke="#000" stroke-width="0.4"><tspan x="46.41" textLength="74.93" lengthAdjust="spacingAndGlyphs">University</tspan> <tspan x="126.01" textLength="15.48" lengthAdjust="spacingAndGlyphs">of</tspan> <tspan x="146.74" textLength="79.36" lengthAdjust="spacingAndGlyphs">Minnesota</tspan> <tspan x="230.97" textLength="57.02" lengthAdjust="spacingAndGlyphs">Climate</tspan> <tspan x="293.13" textLength="83.92" lengthAdjust="spacingAndGlyphs">Adaptation</tspan> <tspan x="381.51" textLength="87.01" lengthAdjust="spacingAndGlyphs">Partnership</tspan></text>
<text y="623.8" font-size="15.4" stroke="#000" stroke-width="0.4"><tspan x="46.86" textLength="189.95" lengthAdjust="spacingAndGlyphs">climate.umn.edu/climate</tspan><tspan x="235.92" textLength="11.65" lengthAdjust="spacingAndGlyphs">-</tspan><tspan x="246.66" textLength="34.22" lengthAdjust="spacingAndGlyphs">data</tspan></text>
</svg>
</body>
</html>
